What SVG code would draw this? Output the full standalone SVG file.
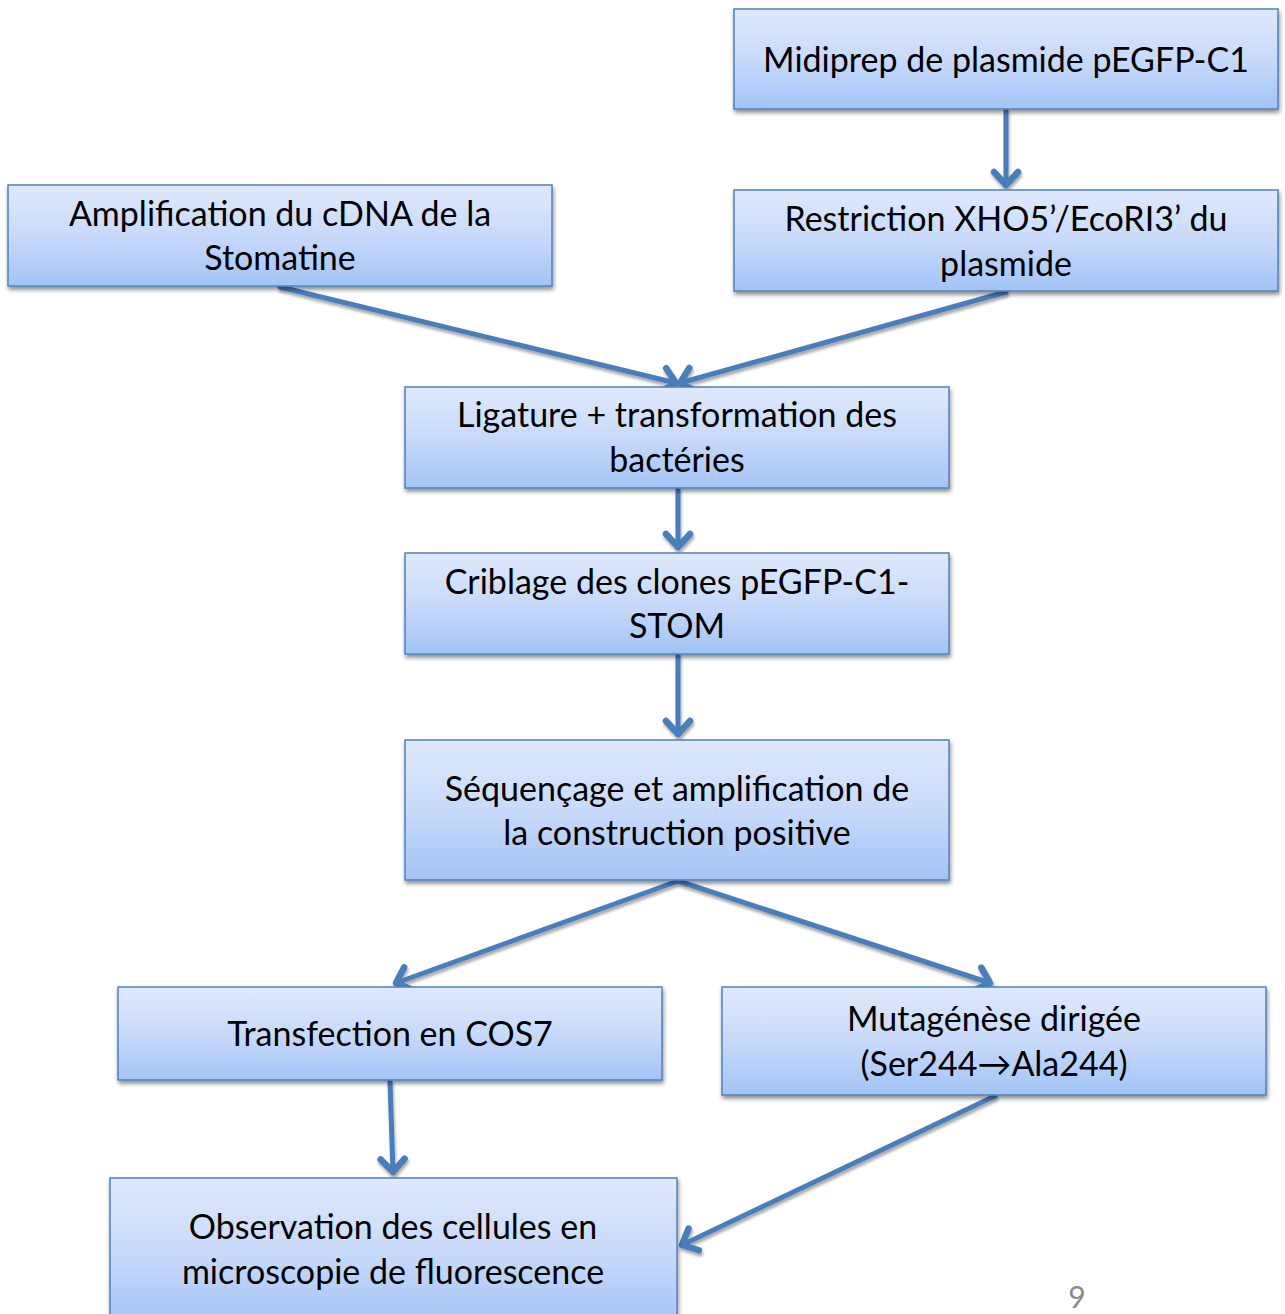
<svg xmlns="http://www.w3.org/2000/svg" width="1285" height="1314" viewBox="0 0 1285 1314">
  <style>
    .box { fill: url(#boxFill); stroke: #4f81bd; stroke-width: 1.5; filter: url(#shadow); }
    .lbl { font-family: Lato, "Open Sans", "Liberation Sans", sans-serif; font-size: 34px; fill: #000; text-anchor: middle; }
    .con { fill: none; stroke: #4a7ebb; stroke-width: 5; stroke-linecap: round; marker-end: url(#head); }
  </style>
  <defs>
    <linearGradient id="boxFill" x1="0" y1="0" x2="0" y2="1">
      <stop offset="0" stop-color="#dfe9fc"/>
      <stop offset="0.5" stop-color="#c8dafa"/>
      <stop offset="1" stop-color="#a3c3f6"/>
    </linearGradient>
    <filter id="shadow" x="-5%" y="-10%" width="112%" height="130%">
      <feGaussianBlur in="SourceAlpha" stdDeviation="2"/>
      <feOffset dx="1" dy="3" result="b"/>
      <feComponentTransfer><feFuncA type="linear" slope="0.45"/></feComponentTransfer>
      <feMerge><feMergeNode/><feMergeNode in="SourceGraphic"/></feMerge>
    </filter>
    <filter id="lineShadow" filterUnits="userSpaceOnUse" x="0" y="0" width="1285" height="1314">
      <feGaussianBlur in="SourceAlpha" stdDeviation="1.5"/>
      <feOffset dx="1" dy="3" result="b"/>
      <feComponentTransfer><feFuncA type="linear" slope="0.35"/></feComponentTransfer>
      <feMerge><feMergeNode/><feMergeNode in="SourceGraphic"/></feMerge>
    </filter>
    <marker id="head" markerUnits="userSpaceOnUse" markerWidth="36" markerHeight="36" viewBox="-19 -18 23 36" refX="0" refY="0" orient="auto">
      <polyline points="-13,-12 0,0 -13,12" fill="none" stroke="#4a7ebb" stroke-width="6.5" stroke-linecap="round" stroke-linejoin="round"/>
    </marker>
  </defs>

  <g id="connectors" filter="url(#lineShadow)">
    <line class="con" x1="1006" y1="110" x2="1006" y2="185"/>
    <line class="con" x1="280" y1="287" x2="676" y2="383"/>
    <line class="con" x1="1006" y1="292" x2="680" y2="383"/>
    <line class="con" x1="678" y1="489" x2="678" y2="547"/>
    <line class="con" x1="678" y1="655" x2="678" y2="734"/>
    <line class="con" x1="678" y1="881" x2="396" y2="983"/>
    <line class="con" x1="678" y1="881" x2="990" y2="983"/>
    <line class="con" x1="390" y1="1081" x2="393" y2="1172"/>
    <line class="con" x1="995" y1="1096" x2="682" y2="1245"/>
  </g>

  <g id="midiprep">
    <rect class="box" x="734" y="9" width="544" height="100"/>
    <text class="lbl" x="1006" y="72">Midiprep de plasmide pEGFP-C1</text>
  </g>
  <g id="restriction">
    <rect class="box" x="734" y="190" width="544" height="101"/>
    <text class="lbl" x="1006" y="231">Restriction XHO5’/EcoRI3’ du</text>
    <text class="lbl" x="1006" y="276">plasmide</text>
  </g>
  <g id="amplification">
    <rect class="box" x="8" y="185" width="544" height="101"/>
    <text class="lbl" x="280" y="226">Amplification du cDNA de la</text>
    <text class="lbl" x="280" y="270">Stomatine</text>
  </g>
  <g id="ligature">
    <rect class="box" x="405" y="387" width="544" height="101"/>
    <text class="lbl" x="677" y="427">Ligature + transformation des</text>
    <text class="lbl" x="677" y="472">bactéries</text>
  </g>
  <g id="criblage">
    <rect class="box" x="405" y="553" width="544" height="101"/>
    <text class="lbl" x="677" y="594">Criblage des clones pEGFP-C1-</text>
    <text class="lbl" x="677" y="638">STOM</text>
  </g>
  <g id="sequencage">
    <rect class="box" x="405" y="740" width="544" height="140"/>
    <text class="lbl" x="677" y="801">Séquençage et amplification de</text>
    <text class="lbl" x="677" y="845">la construction positive</text>
  </g>
  <g id="transfection">
    <rect class="box" x="118" y="987" width="544" height="93"/>
    <text class="lbl" x="390" y="1046">Transfection en COS7</text>
  </g>
  <g id="mutagenese">
    <rect class="box" x="722" y="987" width="544" height="108"/>
    <text class="lbl" x="994" y="1031">Mutagénèse dirigée</text>
    <text class="lbl" x="994" y="1076">(Ser244→Ala244)</text>
  </g>
  <g id="observation">
    <rect class="box" x="110" y="1178" width="567" height="150"/>
    <text class="lbl" x="393" y="1239">Observation des cellules en</text>
    <text class="lbl" x="393" y="1284">microscopie de fluorescence</text>
  </g>

  <text x="1077" y="1308" font-family="Lato, 'Open Sans', 'Liberation Sans', sans-serif" font-size="30" fill="#8a8a8a" text-anchor="middle">9</text>
</svg>
